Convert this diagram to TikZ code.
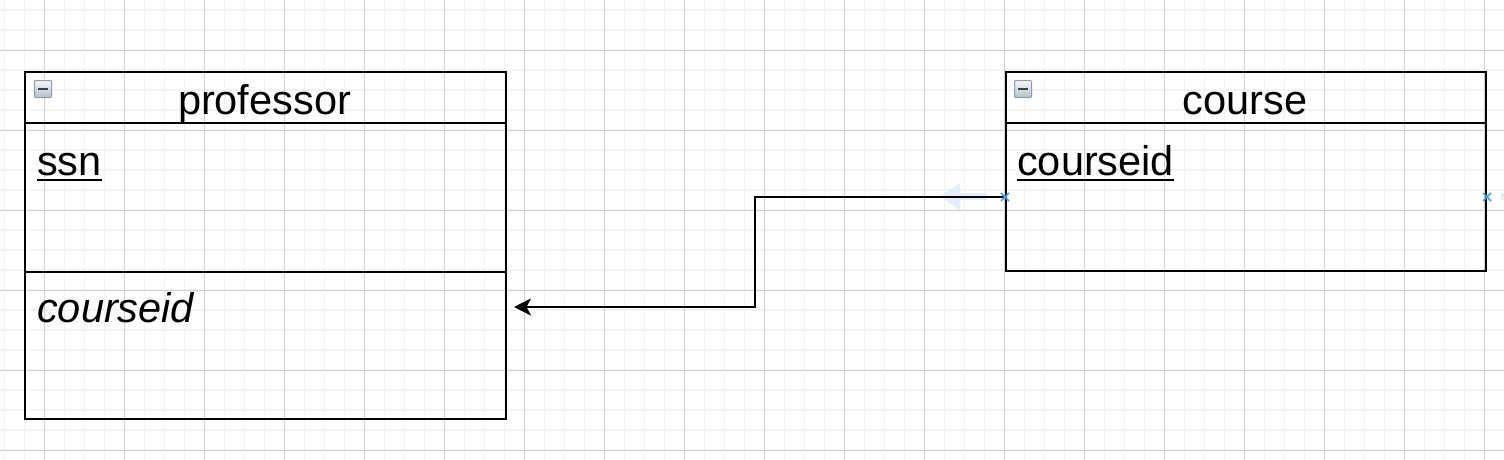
\documentclass[tikz,border=0pt]{standalone}
\usepackage{fontspec}
\setmainfont{Liberation Sans}
\usetikzlibrary{arrows.meta,calc}
\definecolor{minorgrid}{HTML}{F3F3F3}
\definecolor{majorgrid}{HTML}{D0D0D0}
\definecolor{markblue}{HTML}{4A9FE6}
\definecolor{hintblue}{HTML}{E2EEFB}
\definecolor{iconborder}{HTML}{8E9AAC}
\definecolor{icontop}{HTML}{F6F8FA}
\definecolor{iconbottom}{HTML}{B4BFCB}
\tikzset{
  section/.style={draw=black, line width=2pt, fill=none, inner sep=0pt, anchor=north west, minimum width=481pt},
  bigtext/.style={inner sep=0pt, font=\fontsize{41.5}{50}\selectfont},
  ulineline/.style={line width=2pt},
  collapsebox/.style={draw=iconborder, line width=1pt, top color=icontop, bottom color=iconbottom, minimum size=17pt, inner sep=0pt, rounded corners=1pt},
  minusline/.style={line width=2.5pt, draw=black!75},
  fkarrow/.style={line width=1.4pt, -{Stealth[length=17pt,width=17pt,inset=4.5pt]}},
  xmark/.style={draw=markblue, line width=1.5pt}
}
\begin{document}
\begin{tikzpicture}[x=1pt,y=-1pt]
\useasboundingbox (0,0) rectangle (1504,460);
\fill[white] (0,0) rectangle (1504,460);
% grid
\foreach \gx in {4.3,24.3,...,1504} \draw[minorgrid, line width=1.6pt] (\gx,0) -- (\gx,460);
\foreach \gy in {10,30,...,460} \draw[minorgrid, line width=1.6pt] (0,\gy) -- (1504,\gy);
\foreach \gx in {44.3,124.3,...,1504} \draw[majorgrid, line width=0.8pt] (\gx,0) -- (\gx,460);
\foreach \gy in {50,130,...,460} \draw[majorgrid, line width=0.8pt] (0,\gy) -- (1504,\gy);

% hint arrows
\fill[hintblue] (987,193) -- (960,193) -- (960,183) -- (940,196.5) -- (960,210) -- (960,200) -- (987,200) -- cycle;
\fill[hintblue] (1500.5,193) rectangle (1504,200);

% professor table
\node[section, minimum height=51pt] (profhead) at (24,71) {};
\node[section, minimum height=149pt] (profkeys) at (24,122) {};
\node[section, minimum height=147pt] (profattrs) at (24,271) {};
\node[bigtext, anchor=base] (proftitle) at (264.5,114) {professor};
\node[bigtext, anchor=base west] (ssn) at (37,175) {ssn};
\draw[ulineline] ([yshift=-5pt]ssn.base west) -- ([yshift=-5pt]ssn.base east);
\node[bigtext, anchor=base west] (fkcourseid) at (37,322) {\itshape courseid};
\node[collapsebox] (profcol) at (43,89) {};
\draw[minusline] ($(profcol.center)+(-5,0)$) -- ($(profcol.center)+(5,0)$);

% course table
\node[section, minimum width=480pt, minimum height=51pt] (coursehead) at (1005,71) {};
\node[section, minimum width=480pt, minimum height=148pt] (coursebody) at (1005,122) {};
\node[bigtext, anchor=base] (coursetitle) at (1245,114) {course};
\node[bigtext, anchor=base west] (courseid) at (1017,175) {courseid};
\draw[ulineline] ([yshift=-5pt]courseid.base west) -- ([yshift=-5pt]courseid.base east);
\node[collapsebox] (coursecol) at (1023,89) {};
\draw[minusline] ($(coursecol.center)+(-5,0)$) -- ($(coursecol.center)+(5,0)$);

% connector
\coordinate (bend) at (755,250);
\coordinate (fkend) at ($(profattrs.north east)+(7,36)$);
\draw[fkarrow] (coursebody.west) -| (bend) |- (fkend);

% connection markers
\draw[xmark] ($(coursebody.west)+(-4,-4)$) -- ($(coursebody.west)+(4,4)$);
\draw[xmark] ($(coursebody.west)+(-4,4)$) -- ($(coursebody.west)+(4,-4)$);
\draw[xmark] ($(coursebody.east)+(-4,-4)$) -- ($(coursebody.east)+(4,4)$);
\draw[xmark] ($(coursebody.east)+(-4,4)$) -- ($(coursebody.east)+(4,-4)$);
\end{tikzpicture}
\end{document}
